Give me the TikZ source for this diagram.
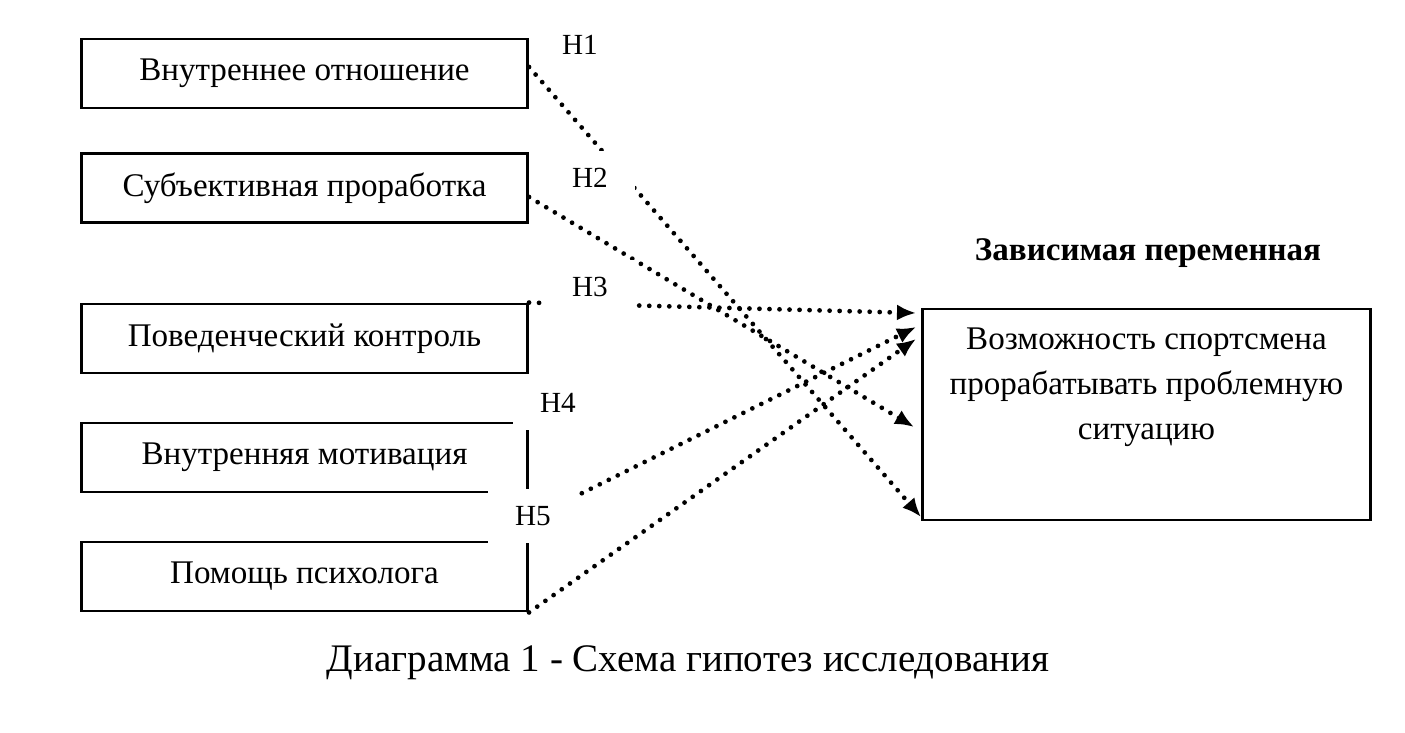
\documentclass[tikz,border=0pt]{standalone}
\usepackage{fontspec}
\setmainfont{Liberation Serif}
\usetikzlibrary{arrows.meta,positioning}
\tikzset{ %styles
    factor/.style={draw, line width=0.8pt, minimum width=4.46cm, minimum height=0.69cm, inner sep=0pt, font=\fontsize{9.4}{11}\selectfont},
    hlab/.style={fill=white, minimum width=0.9cm, minimum height=0.53cm, inner sep=0pt, font=\fontsize{8.3}{10}\selectfont},
    hyp/.style={line width=1.35pt, dash pattern=on 0pt off 2.85pt, line cap=round, -{Latex[length=0.19cm,width=0.16cm]}},
}

\begin{document}
\begin{tikzpicture}[x=0.01cm, y=-0.01cm]
			\useasboundingbox (0,0) rectangle (1405,733);
			\node[factor] (b1) at (304.5,73.5) {Внутреннее отношение};
			\node[factor] (b2) at (304.5,188) {Субъективная проработка};
			\node[factor] (b3) at (304.5,338.5) {Поведенческий контроль};
			\node[factor] (b4) at (304.5,457.5) {Внутренняя мотивация};
			\node[factor] (b5) at (304.5,576.5) {Помощь психолога};
			\node[draw, line width=0.8pt, minimum width=4.47cm, minimum height=2.11cm] (dep) at (1146.5,414.5) {};
			\node[align=center, inner sep=0pt, font=\fontsize{9.4}{12.8}\selectfont, below=0.2cm of dep.north] (deptext) {Возможность спортсмена\\прорабатывать проблемную\\ситуацию};
			\node[anchor=base, font=\bfseries\fontsize{9.4}{11}\selectfont] (title) at (1148,260) {Зависимая переменная};
			\node[anchor=base, font=\fontsize{11.1}{13}\selectfont] (cap) at (688,671) {Диаграмма 1 - Схема гипотез исследования};
			\coordinate (s4) at (528,520);
			\coordinate (e1) at (921,517);
			\coordinate (e2) at (914,427);
			\coordinate (e3) at (916,313);
			\coordinate (e4) at (916,327);
			\coordinate (e5) at (916,339);
			\draw[hyp] ([yshift=0.065cm]b1.east) -- (e1);
			\draw[hyp] ([yshift=-0.09cm]b2.east) -- (e2);
			\draw[hyp] (b3.north east) -- (e3);
			\draw[hyp] (s4) -- (e4);
			\draw[hyp] (b5.south east) -- (e5);
			\node[hlab] (h1) at (580,45) {H1};
			\node[hlab] (h2) at (590,178) {H2};
			\node[hlab] (h3) at (590,287) {H3};
			\node[hlab] (h4) at (558,403) {H4};
			\node[hlab] (h5) at (533,516) {H5};
		\end{tikzpicture}
\end{document}
